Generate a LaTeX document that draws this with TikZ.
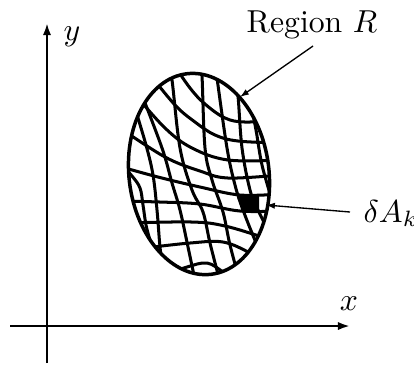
\documentclass[tikz,border=0pt]{standalone}
\usetikzlibrary{arrows.meta}
\begin{document}
\begin{tikzpicture}[x=0.315pt,y=-0.315pt,
  axis/.style={line width=0.72pt,-{Latex[length=3.8pt,width=2.6pt]}},
  pointer/.style={line width=0.42pt,-{Latex[length=2.8pt,width=2pt]}},
  rim/.style={line width=1.1pt},
  gridline/.style={line width=0.95pt},
  lbl/.style={inner sep=0pt,anchor=base}]
\useasboundingbox (0,0) rectangle (414,365);
% axes
\coordinate (ybot) at (47,363);
\coordinate (ytop) at (47,23);
\coordinate (xleft) at (10,326);
\coordinate (xright) at (350,326);
\draw[axis] (ybot) -- (ytop);
\draw[axis] (xleft) -- (xright);
\node[lbl] (ylab) at (72,40) {$y$};
\node[lbl] (xlab) at (349,310) {$x$};
% region
\def\rimpath{[rotate around={7:(199,174)}] (199,174) ellipse [x radius=70,y radius=101]}
\begin{scope}
\clip \rimpath;
\foreach \pts in {
 {(120,163) (132,176) (140,188) (143,205) (146,225) (150,240)},
 {(134,105) (146,145) (153,175) (157,210) (160,247) (163,268)},
 {(140,90) (162,148) (172,183) (180,210) (188,247) (195,280)},
 {(168,62) (172,80) (180,148) (192,190) (203,212) (210,243) (220,282)},
 {(200,62) (202,76) (205,148) (212,180) (223,212) (230,245) (240,282)},
 {(215,62) (217,78) (227,148) (235,185) (243,210) (257,245) (268,268)},
 {(235,80) (238,96) (242,148) (250,190) (258,210) (272,238)},
 {(250,100) (256,130) (262,165) (272,200)},
 {(172,62) (190,88) (205,104) (225,118) (245,122) (280,120)},
 {(148,72) (175,105) (195,122) (215,135) (238,141) (280,143)},
 {(133,92) (165,128) (192,148) (228,160) (280,160)},
 {(120,128) (165,157) (200,171) (228,178) (280,175)},
 {(118,166) (158,177) (200,187) (240,195) (280,194)},
 {(118,201) (160,202) (200,204) (240,211) (280,211)},
 {(125,223) (192,222) (225,226) (265,238) (280,244)},
 {(145,248) (190,243) (223,242) (250,253) (270,266)},
 {(165,275) (187,267) (207,263) (223,272) (238,284)}}
 {\draw[gridline] plot[smooth,tension=0.6] coordinates \pts;}
\end{scope}
\draw[rim] \rimpath;
% small element
\coordinate (sq1) at (240,195);
\coordinate (sq2) at (259,195);
\coordinate (sq3) at (259,211);
\coordinate (sq4) at (241,211);
\fill (sq1) -- (sq2) -- (sq3) -- (sq4) -- cycle;
% labels
\node[lbl] (regionlbl) at (312,32) {Region $R$};
\coordinate (rtail) at (313,46);
\coordinate (rtip) at (240,97);
\draw[pointer] (rtail) -- (rtip);
\node[inner sep=0pt,anchor=base west] (dlab) at (363,222) {$\delta A_k$};
\coordinate (dtail) at (350,212);
\coordinate (dtip) at (266,205);
\draw[pointer] (dtail) -- (dtip);
\end{tikzpicture}
\end{document}
